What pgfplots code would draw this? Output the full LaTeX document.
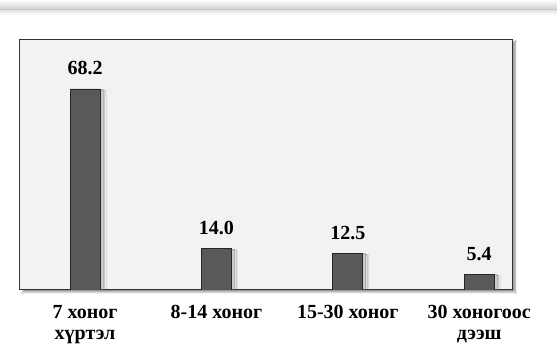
\documentclass[border=0pt]{standalone}
\usepackage{fontspec}
\setmainfont{Liberation Serif}
\usepackage{pgfplots}
\pgfplotsset{compat=1.18}
\usetikzlibrary{shadows.blur}
\definecolor{bg}{HTML}{F2F2F2}
\definecolor{barc}{HTML}{595959}
\begin{document}
\begin{tikzpicture}[x=1pt,y=1pt]
\useasboundingbox (0,0) rectangle (557,358);
\fill[white] (0,0) rectangle (557,358);
% top rule with shadow
\fill[gray!35, path fading=north] (0,349) rectangle (557,358);
\fill[gray!25, path fading=south] (0,343) rectangle (557,349);
\draw[gray!45, line width=0.8pt] (0,349) -- (557,349);
\fill[bg, blur shadow={shadow xshift=3pt, shadow yshift=-2pt, shadow opacity=45, shadow blur steps=8}] (20,68) rectangle (512,318);
\begin{axis}[
  at={(20pt,68pt)}, anchor=south west,
  scale only axis, width=492pt, height=250pt,
  xmin=-0.495, xmax=3.25, ymin=0, ymax=84.8,
  axis line style={black!80, line width=1pt},
  ytick=\empty, xtick=data,
  xticklabels={{7 хоног\\хүртэл},{8-14 хоног},{15-30 хоног},{30 хоногоос\\дээш}},
  xticklabel style={font=\fontsize{20}{20.5}\selectfont\bfseries, align=center, yshift=-12pt},
  major tick length=0pt,
  ybar, bar width=30pt,
  nodes near coords, point meta=explicit symbolic,
  nodes near coords style={font=\fontsize{20}{22}\selectfont\bfseries, yshift=10pt},
]
\addplot[fill=barc, draw=black!85, line width=0.8pt,
  drop shadow={shadow xshift=6pt, shadow yshift=-1.5pt, opacity=0.08},
  drop shadow={shadow xshift=4.5pt, shadow yshift=-1pt, opacity=0.12},
  drop shadow={shadow xshift=3pt, shadow yshift=-0.5pt, opacity=0.18}]
  coordinates {(0,68.2) [68.2] (1,14.0) [14.0] (2,12.5) [12.5] (3,5.4) [5.4]};
\end{axis}
\end{tikzpicture}
\end{document}
